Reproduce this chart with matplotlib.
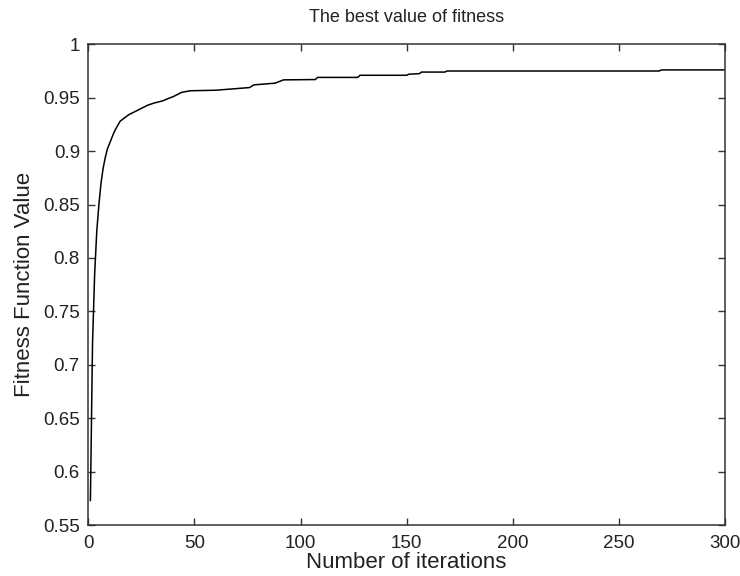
import matplotlib
matplotlib.use("Agg")
import matplotlib.pyplot as plt

iterations = [1, 2, 3, 4, 5, 6, 7, 8, 9, 10, 12, 13, 15, 19, 24, 28, 31, 35, 38, 40,
              44, 48, 60, 76, 78, 88, 92, 107, 108, 127, 128, 150, 151, 156, 157,
              168, 169, 269, 270, 300]
best_fitness = [0.573, 0.72, 0.785, 0.825, 0.85, 0.870, 0.884, 0.894, 0.902, 0.907,
                0.917, 0.921, 0.928, 0.934, 0.939, 0.943, 0.945, 0.947, 0.9495, 0.951,
                0.955, 0.9565, 0.957, 0.9595, 0.962, 0.9636, 0.9667, 0.967, 0.969,
                0.969, 0.971, 0.971, 0.972, 0.9725, 0.974, 0.974, 0.975, 0.975,
                0.976, 0.976]

x_ticks = [0, 50, 100, 150, 200, 250, 300]
x_tick_labels = ["0", "50", "100", "150", "200", "250", "300"]
y_ticks = [0.55, 0.6, 0.65, 0.7, 0.75, 0.8, 0.85, 0.9, 0.95, 1.0]
y_tick_labels = ["0.55", "0.6", "0.65", "0.7", "0.75", "0.8", "0.85", "0.9", "0.95", "1"]

plt.rcParams['font.family'] = ['Liberation Sans', 'DejaVu Sans']

fig = plt.figure(figsize=(7.4, 5.76), dpi=100)
ax = fig.add_axes([0.1193, 0.0885, 0.8604, 0.8346])
ax.plot(iterations, best_fitness, color='black', linewidth=1.1)

ax.set_xlim(0, 300)
ax.set_ylim(0.55, 1.0)
ax.set_xticks(x_ticks)
ax.set_xticklabels(x_tick_labels)
ax.set_yticks(y_ticks)
ax.set_yticklabels(y_tick_labels)
ax.tick_params(direction='in', length=5, width=1.0, top=True, right=True,
               labelsize=13.5, pad=6, color='#333333', labelcolor='#222222')
ax.tick_params(axis='x', pad=7)
for sp in ax.spines.values():
    sp.set_linewidth(1.1)
    sp.set_color('#333333')

ax.set_title("The best value of fitness", fontsize=13, color='#222222', pad=16)
ax.set_xlabel("Number of iterations", fontsize=16, color='#222222', labelpad=0)
ax.set_ylabel("Fitness Function Value", fontsize=16, color='#222222', labelpad=6)

fig.savefig("out.png", dpi=100)
